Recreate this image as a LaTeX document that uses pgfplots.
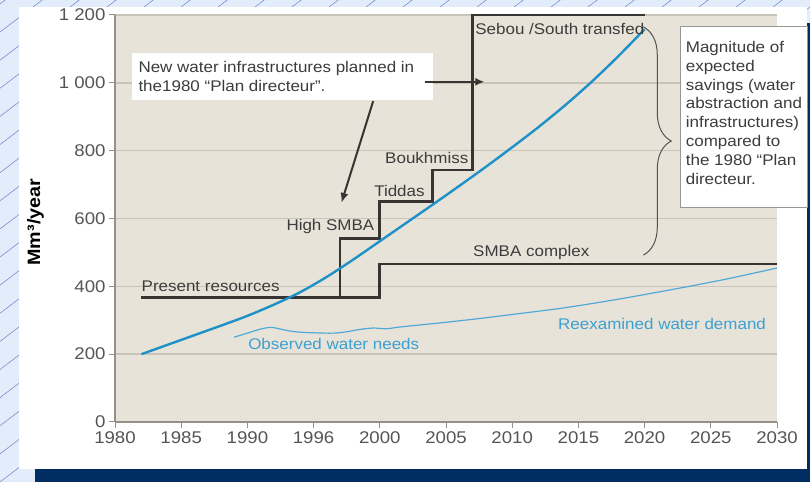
\documentclass[border=0pt]{standalone}
\usepackage{fontspec}
\setmainfont{Liberation Sans}[FakeStretch=1.1]
\usepackage{pgfplots}
\pgfplotsset{compat=1.18}
\usetikzlibrary{arrows.meta,decorations.pathreplacing}

\definecolor{slidebg}{RGB}{226,236,251}
\definecolor{slideline}{RGB}{110,130,200}
\definecolor{navy}{RGB}{0,45,98}
\definecolor{plotbg}{RGB}{232,227,216}
\definecolor{gridgray}{RGB}{200,196,186}
\definecolor{axisgray}{RGB}{150,145,135}
\definecolor{stepcol}{RGB}{55,52,50}
\definecolor{demand}{RGB}{30,145,200}
\definecolor{obs}{RGB}{80,170,215}
\definecolor{obstext}{RGB}{60,160,210}
\definecolor{anntext}{RGB}{60,60,60}
\definecolor{ticktext}{RGB}{85,85,85}
\definecolor{boxgray}{RGB}{150,150,150}

\newcommand{\ann}{\fontsize{15.5}{19}\selectfont}

\begin{document}
\begin{tikzpicture}[x=1bp,y=1bp]
\useasboundingbox (0,0) rectangle (810,482);
\fill[slidebg] (0,0) rectangle (810,482);
\begin{scope}
\clip (0,0) rectangle (810,482);
\foreach \i in {-20,...,23} {
  \draw[slideline, line width=0.5bp] (\i*37,0) -- ++(1000,760);
}
\end{scope}
\fill[white] (19,13) rectangle (807,475);
\fill[navy] (35,0) rectangle (810,13);
\fill[navy] (807,0) rectangle (810,459);

\begin{axis}[
  at={(115bp,60bp)}, anchor=south west,
  scale only axis, width=662bp, height=407bp,
  xmin=1980, xmax=2030, ymin=0, ymax=1200,
  axis lines=left,
  axis line style={draw=axisgray, line width=1.6bp, -},
  axis background/.style={fill=plotbg},
  xtick={1980,1985,...,2030},
  xticklabels={1980,1985,1990,1996,2000,2005,2010,2015,2020,2025,2030},
  ytick={0,200,...,1200},
  yticklabels={0,200,400,600,800,1\ 000,1\ 200},
  tick align=outside, major tick length=6bp,
  tick style={draw=axisgray, line width=1bp},
  ymajorgrids, grid style={draw=gridgray, line width=1.4bp},
  ticklabel style={font=\fontsize{17}{19}\selectfont, text=ticktext},
  ylabel={Mm³/year},
  ylabel style={at={(axis description cs:-0.12,0.491)}, anchor=center,
    font=\bfseries\fontsize{18}{20}\selectfont, text=black},
  clip=false,
]
% planned resources (step lines)
\addplot[stepcol, line width=2.8bp, line join=miter] coordinates {
  (1982,368) (2000,368) (2000,466) (2030,466)};
\addplot[stepcol, line width=2.8bp, line join=miter] coordinates {
  (1997,368) (1997,542) (2000,542) (2000,650) (2004,650) (2004,743)
  (2007,743) (2007,1200) (2020,1200)};
% observed needs / reexamined demand
\addplot[obs, line width=1.2bp, smooth] coordinates {
  (1989,250) (1990,262) (1991,274) (1991.8,279) (1992.6,273) (1993.6,266)
  (1995,263) (1996.5,262) (1997.5,266) (1998.5,273) (1999.5,277) (2000.5,275)
  (2001.5,280) (2003,286) (2005,294) (2007.5,305) (2010,317) (2014,337)
  (2018,362) (2022,390) (2026,420) (2030,454)};
% 1980 projected demand
\addplot[demand, line width=2.4bp, smooth] coordinates {
  (1982,200) (1984,228) (1986,256) (1988,284) (1990,313) (1992,346)
  (1994,383) (1996,428) (1998,479) (2000,533) (2002,587) (2004,641)
  (2006,696) (2008,752) (2010,810) (2012,870) (2014,934) (2016,1003)
  (2018,1078) (2020,1158)};

% labels
\node[anchor=west, inner sep=0, font=\ann, text=anntext] at (axis cs:1982,400) {Present resources};
\node[anchor=east, inner sep=0, font=\ann, text=anntext] at (axis cs:1999.6,576) {High SMBA};
\node[anchor=east, inner sep=0, font=\ann, text=anntext] at (axis cs:2003.4,680) {Tiddas};
\node[anchor=east, inner sep=0, font=\ann, text=anntext] at (axis cs:2006.7,777) {Boukhmiss};
\node[anchor=west, inner sep=0, font=\ann, text=anntext] at (axis cs:2007.2,1160) {Sebou /South transfed};
\node[anchor=west, inner sep=0, font=\ann, text=anntext] at (axis cs:2007.04,500) {SMBA complex};
\node[anchor=west, inner sep=0, font=\ann, text=obstext] at (axis cs:1990.05,230) {Observed water needs};
\node[anchor=west, inner sep=0, font=\ann, text=obstext] at (axis cs:2013.46,289) {Reexamined water demand};

% left box with arrows
\fill[white] (axis cs:1981.28,1088) rectangle (axis cs:2004.02,949.4);
\node[anchor=north west, inner sep=0, align=left, font=\ann, text=anntext]
  at (axis cs:1981.76,1064) {New water infrastructures planned in\\the1980 “Plan directeur”.};
\draw[stepcol, line width=2.6bp, -{Latex[length=9bp,width=8bp]}]
  (axis cs:2003.4,1003) -- (axis cs:2007.9,1003);
\draw[stepcol, line width=2bp, -{Latex[length=10bp,width=8bp]}]
  (axis cs:1999.5,946) -- (axis cs:1997.1,646);

% brace
\draw[stepcol!85, line width=1bp, decorate, decoration={brace, amplitude=28bp}]
  (axis cs:2019.9,1165) -- (axis cs:2019.9,492);

% right box
\filldraw[fill=white, draw=boxgray, line width=0.8bp]
  (axis cs:2022.67,1167.6) rectangle (axis cs:2032.27,633.9);
\node[anchor=north west, inner sep=0, align=left, font=\ann, text=anntext]
  at (axis cs:2023.1,1124) {Magnitude of\\expected\\savings (water\\abstraction and\\infrastructures)\\compared to\\the 1980 “Plan\\directeur.};
\end{axis}
\end{tikzpicture}
\end{document}
